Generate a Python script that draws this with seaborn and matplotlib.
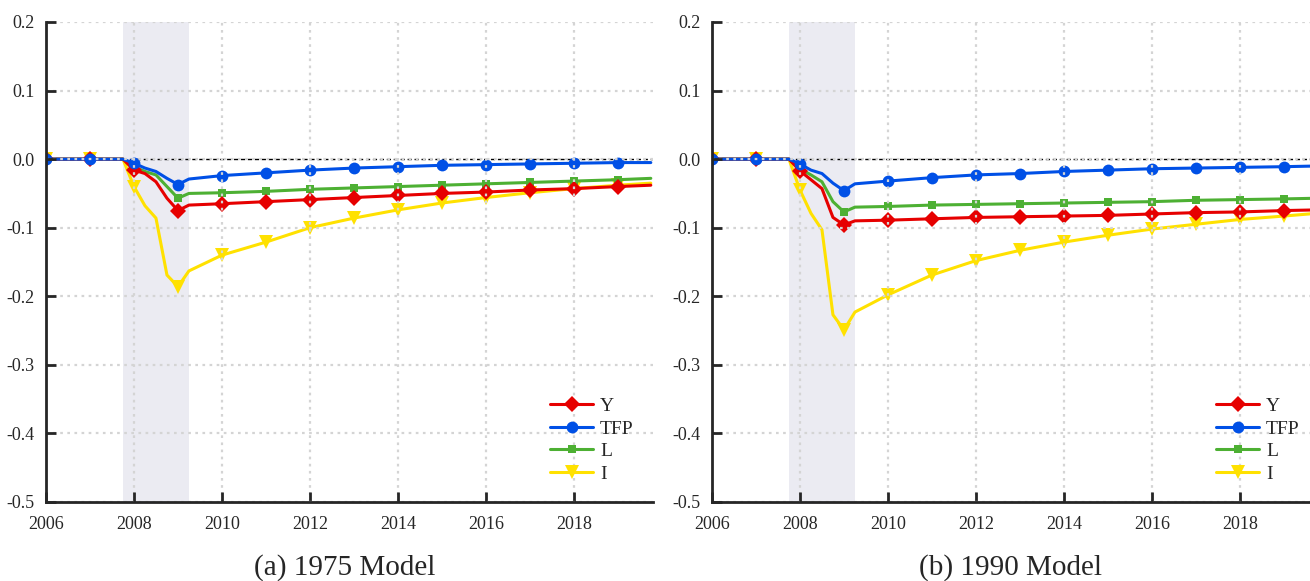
import numpy as np
import pandas as pd
import matplotlib
matplotlib.use("Agg")
import matplotlib.pyplot as plt
import seaborn as sns

# Dates (trimestrielles pendant la récession, annuelles ensuite)
dates = [2006, 2007, 2007.75, 2008, 2008.25, 2008.5, 2008.75, 2009, 2009.25,
         2010, 2011, 2012, 2013, 2014, 2015, 2016, 2017, 2018, 2019, 2019.75]

# Modèle 1975
y_1975 = [0, 0, 0, -0.016, -0.021, -0.033, -0.057, -0.075, -0.067,
          -0.065, -0.062, -0.059, -0.056, -0.053, -0.050, -0.048, -0.045, -0.043, -0.040, -0.038]
tfp_1975 = [0, 0, 0, -0.006, -0.013, -0.018, -0.028, -0.037, -0.029,
            -0.024, -0.020, -0.016, -0.013, -0.011, -0.009, -0.008, -0.007, -0.006, -0.005, -0.005]
l_1975 = [0, 0, 0, -0.011, -0.018, -0.023, -0.040, -0.057, -0.050,
          -0.049, -0.047, -0.044, -0.042, -0.040, -0.038, -0.036, -0.034, -0.032, -0.030, -0.028]
i_1975 = [0, 0, 0, -0.040, -0.068, -0.086, -0.169, -0.186, -0.163,
          -0.140, -0.121, -0.100, -0.086, -0.074, -0.064, -0.056, -0.049, -0.043, -0.038, -0.035]

# Modèle 1990
y_1990 = [0, 0, 0, -0.017, -0.030, -0.043, -0.085, -0.096, -0.090,
          -0.089, -0.087, -0.085, -0.084, -0.083, -0.082, -0.080, -0.078, -0.077, -0.075, -0.074]
tfp_1990 = [0, 0, 0, -0.007, -0.016, -0.021, -0.035, -0.046, -0.036,
            -0.032, -0.027, -0.023, -0.021, -0.018, -0.016, -0.014, -0.013, -0.012, -0.011, -0.010]
l_1990 = [0, 0, 0, -0.014, -0.023, -0.033, -0.062, -0.077, -0.070,
          -0.069, -0.067, -0.066, -0.065, -0.064, -0.063, -0.062, -0.060, -0.059, -0.058, -0.057]
i_1990 = [0, 0, 0, -0.045, -0.079, -0.103, -0.227, -0.249, -0.223,
          -0.198, -0.169, -0.148, -0.133, -0.121, -0.111, -0.102, -0.095, -0.088, -0.083, -0.079]

series_names = ["Y", "TFP", "L", "I"]
colors = {"Y": "#e60000", "TFP": "#0050e6", "L": "#4db033", "I": "#ffe100"}
markers = {"Y": "D", "TFP": "o", "L": "s", "I": "v"}
msizes = {"Y": 8, "TFP": 8.5, "L": 6, "I": 9.5}
draw_order = ["I", "L", "Y", "TFP"]

yticks = [-0.5, -0.4, -0.3, -0.2, -0.1, 0.0, 0.1, 0.2]
ytick_labels = ["-0.5", "-0.4", "-0.3", "-0.2", "-0.1", "0.0", "0.1", "0.2"]
xticks = [2006, 2008, 2010, 2012, 2014, 2016, 2018]

panels = [
    ("(a) 1975 Model", {"Y": y_1975, "TFP": tfp_1975, "L": l_1975, "I": i_1975}),
    ("(b) 1990 Model", {"Y": y_1990, "TFP": tfp_1990, "L": l_1990, "I": i_1990}),
]

sns.set_style("white")
plt.rcParams["font.family"] = ["Liberation Serif", "DejaVu Serif"]
plt.rcParams["axes.unicode_minus"] = False

# Marqueurs seulement aux années entières
annual = [k for k, d in enumerate(dates) if float(d).is_integer()]

fig = plt.figure(figsize=(13.1, 5.81), dpi=100)
lefts = [46 / 1310, 712 / 1310]
W, H = 607 / 1310, 480 / 581
B = 1 - 502 / 581

for (caption, data), left in zip(panels, lefts):
    ax = fig.add_axes([left, B, W, H])
    ax.axvspan(2007.75, 2009.25, color="#ebebf2", zorder=0, lw=0)
    ax.axhline(0, color="black", ls=(0, (3, 2)), lw=1, zorder=1.5)

    for name in draw_order:
        df = pd.DataFrame({"date": dates, "val": data[name]})
        sns.lineplot(data=df, x="date", y="val", ax=ax, color=colors[name],
                     lw=2.2, marker=markers[name], markersize=msizes[name],
                     markeredgewidth=0, markevery=annual, label=name, zorder=2)
    h, l = ax.get_legend_handles_labels()
    order = [l.index(n) for n in series_names]
    ax.legend([h[k] for k in order], series_names, loc="lower right",
              frameon=False, fontsize=14, handlelength=2.2, borderaxespad=0.6,
              labelspacing=0.25, handletextpad=0.35)

    ax.set_xlim(2006, 2019.8)
    ax.set_ylim(-0.5, 0.2)
    ax.set_xticks(xticks)
    ax.set_yticks(yticks)
    ax.set_yticklabels(ytick_labels)
    ax.set_xlabel("")
    ax.set_ylabel("")
    ax.set_axisbelow(False)
    ax.grid(True, color="#d4d4d4", ls=(0, (1.2, 2)), lw=1.6)
    for s in ["top", "right"]:
        ax.spines[s].set_visible(False)
    for s in ["left", "bottom"]:
        ax.spines[s].set_color("#262626")
        ax.spines[s].set_linewidth(2)
        ax.spines[s].set_zorder(4)
    ax.tick_params(direction="in", length=7, width=2, color="#262626",
                   labelsize=13, left=True, bottom=True)
    ax.tick_params(axis="x", pad=10)
    ax.tick_params(axis="y", pad=8)

    fig.text(left + W / 2 - 0.004, 1 - 568 / 581, caption, ha="center", va="center",
             fontsize=21)

fig.savefig("out.png", dpi=100)
